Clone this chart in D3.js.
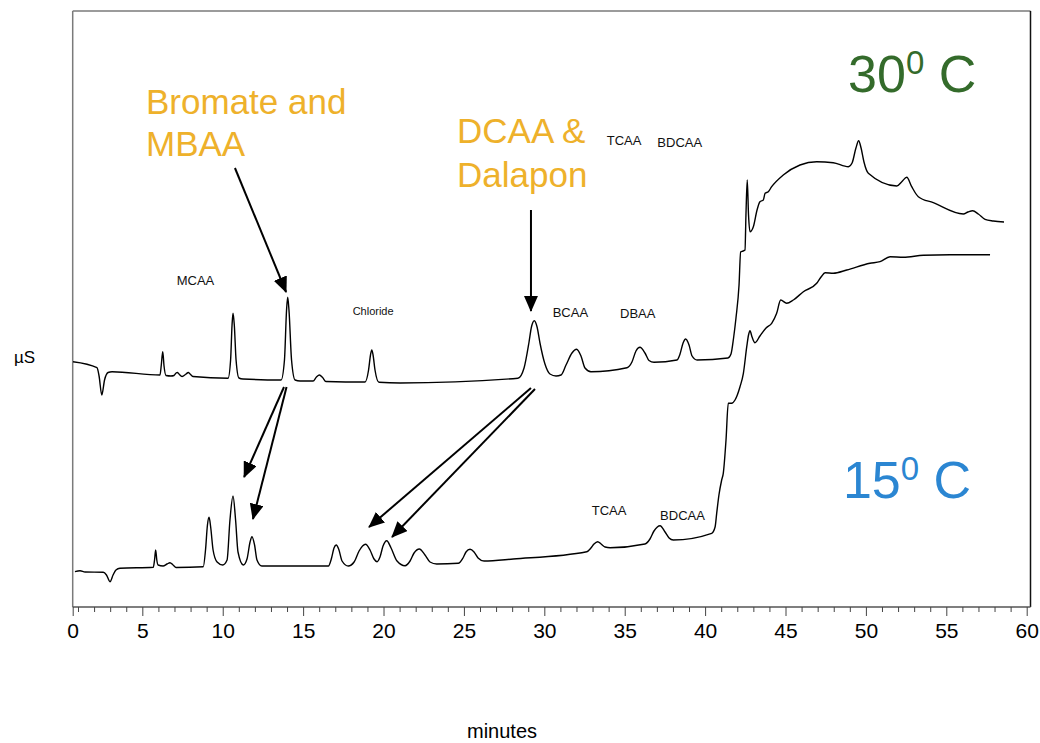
<!DOCTYPE html>
<html>
<head>
<meta charset="utf-8">
<script src="https://cdn.jsdelivr.net/npm/d3@7"></script>
<style>
  html, body { margin: 0; padding: 0; background: #fff; }
  svg { display: block; font-family: "Liberation Sans", Arial, sans-serif; }
</style>
</head>
<body>
<svg id="chart" width="1040" height="743"></svg>
<script>
// ---- data (minutes, detector signal in arbitrary µS units) ----
const trace30 = [[0.69,24.53],[2.18,23.93],[2.31,23.10],[2.48,21.20],[2.65,22.70],[2.87,23.45],[3.12,23.52],[6.10,23.20],[6.18,24.20],[6.27,25.53],[6.35,24.10],[6.47,23.15],[6.78,23.10],[6.97,23.15],[7.10,23.40],[7.18,23.45],[7.28,23.30],[7.47,23.05],[7.72,23.30],[7.86,23.45],[7.97,23.30],[8.15,23.05],[10.33,22.87],[10.49,24.70],[10.58,28.20],[10.64,29.37],[10.72,28.20],[10.83,24.70],[11.01,22.90],[11.26,22.80],[13.63,22.70],[13.84,24.70],[13.97,29.70],[14.04,30.97],[14.12,29.70],[14.28,24.70],[14.50,22.70],[14.81,22.60],[15.62,22.60],[15.83,23.00],[16.01,23.20],[16.21,22.95],[16.42,22.55],[18.85,22.50],[19.07,23.70],[19.19,25.20],[19.27,25.70],[19.35,25.20],[19.47,23.70],[19.72,22.47],[21.03,22.40],[28.36,22.87],[28.74,23.90],[29.05,26.50],[29.20,28.00],[29.38,28.63],[29.55,28.00],[29.73,26.40],[30.04,24.30],[30.35,23.30],[30.73,23.10],[31.04,23.20],[31.35,24.20],[31.72,25.40],[32.01,25.77],[32.28,25.10],[32.53,23.90],[32.90,23.53],[35.14,23.93],[35.45,24.50],[35.70,25.60],[35.95,25.97],[36.26,25.40],[36.51,24.65],[36.82,24.47],[38.25,24.70],[38.44,25.30],[38.63,26.40],[38.79,26.80],[39.00,26.20],[39.19,25.10],[39.50,24.70],[41.42,24.90],[41.61,25.30],[41.77,26.90],[41.92,28.90],[42.11,32.20],[42.21,35.50],[42.36,35.60],[42.48,35.70],[42.54,39.20],[42.62,42.70],[42.70,39.20],[42.79,37.53],[43.00,38.03],[43.23,39.70],[43.41,40.53],[43.62,40.70],[43.73,41.37],[43.93,41.53],[44.14,42.03],[44.86,43.20],[45.90,44.20],[46.94,44.53],[47.97,44.43],[48.91,44.03],[49.14,44.40],[49.38,45.90],[49.55,46.63],[49.70,45.90],[49.88,44.50],[50.15,43.37],[51.92,42.10],[52.23,42.53],[52.54,42.97],[52.85,42.03],[53.26,41.03],[54.19,40.43],[56.06,39.30],[56.35,39.50],[56.64,39.63],[56.99,39.30],[57.41,38.77],[57.92,38.60],[58.59,38.50]];

const trace15 = [[0.81,3.53],[1.13,3.63],[1.44,3.50],[2.57,3.47],[2.77,3.20],[2.99,2.53],[3.18,3.20],[3.36,3.70],[3.61,3.87],[5.68,3.97],[5.76,4.70],[5.83,5.70],[5.90,4.70],[5.98,4.20],[6.29,4.10],[6.54,4.30],[6.72,4.43],[6.91,4.20],[7.10,3.95],[8.79,4.03],[8.93,5.70],[9.05,8.20],[9.15,8.97],[9.25,8.00],[9.40,5.70],[9.65,4.50],[10.00,4.20],[10.27,4.70],[10.45,8.70],[10.64,11.10],[10.80,8.70],[10.95,5.50],[11.28,4.20],[11.51,4.80],[11.70,6.50],[11.82,7.03],[11.98,6.20],[12.13,4.70],[12.43,4.10],[16.57,4.10],[16.77,4.90],[16.92,5.90],[17.06,6.20],[17.23,5.70],[17.42,4.60],[17.81,4.10],[18.17,4.50],[18.48,5.60],[18.88,6.27],[19.16,5.70],[19.41,4.80],[19.60,4.53],[19.78,5.00],[19.97,6.10],[20.20,6.63],[20.47,5.90],[20.84,4.60],[21.34,4.13],[21.65,4.60],[21.90,5.40],[22.23,5.80],[22.58,5.20],[22.89,4.50],[23.31,4.30],[24.65,4.37],[24.94,4.90],[25.13,5.50],[25.38,5.77],[25.63,5.50],[25.88,4.90],[26.25,4.60],[28.07,4.80],[32.64,5.53],[32.90,5.90],[33.09,6.30],[33.32,6.53],[33.53,6.30],[33.78,6.00],[34.09,5.93],[36.26,6.30],[36.57,6.80],[36.82,7.60],[37.20,8.13],[37.51,7.50],[37.76,6.90],[38.02,6.70],[40.41,7.37],[40.62,8.00],[40.72,9.37],[40.86,11.20],[41.03,12.70],[41.13,13.37],[41.30,16.70],[41.44,20.37],[41.65,20.37],[41.86,20.70],[42.17,22.03],[42.38,23.37],[42.59,26.03],[42.70,27.20],[42.79,27.63],[42.92,27.00],[43.10,26.43],[43.41,27.10],[43.79,27.90],[44.14,28.37],[44.45,29.37],[44.70,30.70],[45.07,30.37],[45.49,30.70],[46.11,31.53],[46.94,32.37],[47.21,33.00],[47.46,33.43],[47.97,33.37],[48.81,33.70],[50.25,34.37],[50.88,34.53],[51.50,35.03],[52.33,34.97],[53.57,35.17],[55.23,35.23],[57.72,35.23]];

const xTickValues = [0.67,5,10,15,20,25,30,35,40,45,50,55,60];
const xTickLabels = ["0","5","10","15","20","25","30","35","40","45","50","55","60"];
const xMinorTicks = [1,2,3,4,6,7,8,9,11,12,13,14,16,17,18,19,21,22,23,24,26,27,28,29,31,32,33,34,36,37,38,39,41,42,43,44,46,47,48,49,51,52,53,54,56,57,58,59];

// peak labels: [text, minutes, signal, font size]
const peakLabels = [
  ["MCAA", 7.14, 32.2, 13],
  ["Chloride", 18.08, 29.2, 11],
  ["BCAA", 30.52, 29.03, 13],
  ["DBAA", 34.71, 28.87, 13],
  ["TCAA", 33.88, 46.2, 13],
  ["BDCAA", 37.03, 45.97, 13],
  ["TCAA", 32.95, 9.2, 13],
  ["BDCAA", 37.20, 8.7, 13]
];
// highlighted compounds: [text, minutes, signal]
const compoundLabels = [
  ["Bromate and", 5.23, 49.3],
  ["MBAA", 5.23, 45.1],
  ["DCAA &", 24.57, 46.4],
  ["Dalapon", 24.57, 42.0]
];
// arrows: [from minutes, from signal, to minutes, to signal]
const arrows = [
  [10.76, 43.9, 13.94, 31.5],
  [29.17, 39.7, 29.17, 29.6],
  [13.81, 22.0, 11.33, 13.0],
  [13.97, 22.0, 11.88, 8.8],
  [29.17, 21.9, 19.10, 8.0],
  [29.42, 21.8, 20.53, 7.0]
];
// temperature labels: [main, superscript, suffix, minutes, signal, colour]
const tempLabels = [
  ["30", "0", " C", 48.89, 51.5, "#346b2b"],
  ["15", "0", " C", 48.57, 10.9, "#2b86d2"]
];

// ---- layout ----
const svg = d3.select("#chart");
const plotLeft = 72.7, plotRight = 1026.7, plotTop = 11, plotBottom = 607, frameRight = 1030.5;
const x = d3.scaleLinear().domain([0.67, 60]).range([plotLeft, plotRight]);
const y = d3.scaleLinear().domain([0, 59.6]).range([plotBottom, plotTop]);

// frame
svg.append("line").attr("x1", plotLeft).attr("x2", frameRight).attr("y1", plotTop).attr("y2", plotTop)
  .attr("stroke", "#7a7a7a").attr("stroke-width", 1.5);
svg.append("line").attr("x1", plotLeft).attr("x2", plotLeft).attr("y1", plotTop).attr("y2", plotBottom)
  .attr("stroke", "#7a7a7a").attr("stroke-width", 1.5);
svg.append("line").attr("x1", frameRight).attr("x2", frameRight).attr("y1", plotTop).attr("y2", plotBottom)
  .attr("stroke", "#111").attr("stroke-width", 1.5);

// x axis
const axisMajor = d3.axisBottom(x).tickValues(xTickValues)
  .tickFormat((d, i) => xTickLabels[i]).tickSize(9).tickPadding(7);
const gx = svg.append("g").attr("transform", `translate(0,${plotBottom})`).call(axisMajor);
gx.select(".domain").attr("stroke", "#555").attr("stroke-width", 1.5)
  .attr("d", `M${plotLeft},0H${frameRight}`);
gx.selectAll(".tick line").attr("stroke", "#444");
gx.selectAll(".tick text").attr("font-size", 21).attr("fill", "#000")
  .attr("font-family", '"Liberation Sans", Arial, sans-serif');
const axisMinor = d3.axisBottom(x).tickValues(xMinorTicks).tickFormat("").tickSize(5);
const gm = svg.append("g").attr("transform", `translate(0,${plotBottom})`).call(axisMinor);
gm.select(".domain").remove();
gm.selectAll(".tick line").attr("stroke", "#444");

// axis titles
svg.append("text").attr("x", 502).attr("y", 738).attr("text-anchor", "middle")
  .attr("font-size", 20).attr("fill", "#000").text("minutes");
svg.append("text").attr("x", 14).attr("y", 363)
  .attr("font-size", 17).attr("fill", "#000").text("µS");

// traces
const line = d3.line().x(d => x(d[0])).y(d => y(d[1])).curve(d3.curveMonotoneX);
[trace30, trace15].forEach(tr => {
  svg.append("path").datum(tr).attr("d", line)
    .attr("fill", "none").attr("stroke", "#000").attr("stroke-width", 1.4)
    .attr("stroke-linejoin", "round");
});

// arrow marker
svg.append("defs").append("marker")
  .attr("id", "head").attr("viewBox", "0 0 16 14")
  .attr("refX", 15).attr("refY", 7)
  .attr("markerWidth", 16).attr("markerHeight", 14)
  .attr("markerUnits", "userSpaceOnUse").attr("orient", "auto")
  .append("path").attr("d", "M0,0L16,7L0,14Z").attr("fill", "#000");

svg.selectAll("line.arrow").data(arrows).enter().append("line")
  .attr("class", "arrow")
  .attr("x1", d => x(d[0])).attr("y1", d => y(d[1]))
  .attr("x2", d => x(d[2])).attr("y2", d => y(d[3]))
  .attr("stroke", "#000").attr("stroke-width", 2)
  .attr("marker-end", "url(#head)");

// peak labels
svg.selectAll("text.peak").data(peakLabels).enter().append("text")
  .attr("class", "peak")
  .attr("x", d => x(d[1])).attr("y", d => y(d[2]))
  .attr("font-size", d => d[3]).attr("fill", "#111").text(d => d[0]);

// compound labels
svg.selectAll("text.comp").data(compoundLabels).enter().append("text")
  .attr("class", "comp")
  .attr("x", d => x(d[1])).attr("y", d => y(d[2]))
  .attr("font-size", 35).attr("fill", "#eeb12b").text(d => d[0]);

// temperature labels
tempLabels.forEach(d => {
  const t = svg.append("text").attr("x", x(d[3])).attr("y", y(d[4]))
    .attr("font-size", 52).attr("fill", d[5]);
  t.append("tspan").text(d[0]);
  t.append("tspan").attr("font-size", 33).attr("dy", -18).text(d[1]);
  t.append("tspan").attr("dy", 18).text(d[2]);
});
</script>
</body>
</html>
